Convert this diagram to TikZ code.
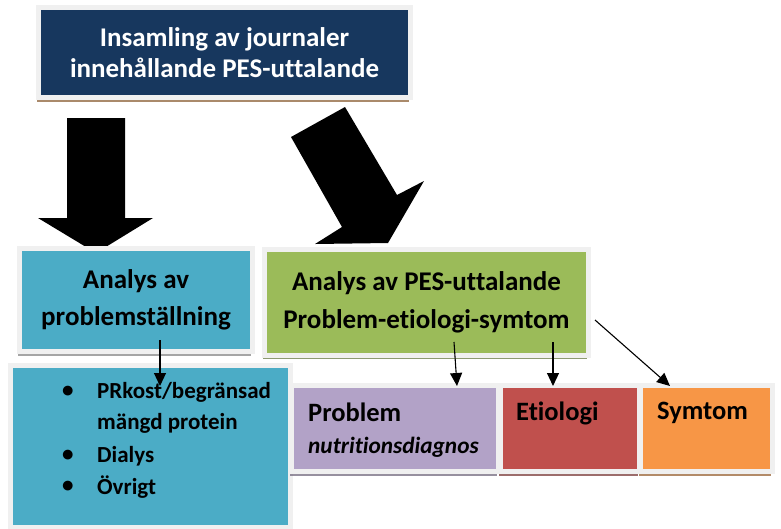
\documentclass[tikz,border=0pt]{standalone}
\usepackage{fontspec}
\setmainfont{Carlito}[Ligatures=NoCommon]
\usetikzlibrary{arrows.meta,shadows}
\definecolor{navy}{HTML}{17375E}
\definecolor{aqua}{HTML}{4BACC6}
\definecolor{olive}{HTML}{9BBB59}
\definecolor{lilac}{HTML}{B2A2C7}
\definecolor{brick}{HTML}{C0504D}
\definecolor{tangerine}{HTML}{F79646}
\definecolor{framegray}{HTML}{F0F0F0}
\tikzset{
  box/.style={draw=framegray, line width=5pt, inner sep=0pt, font=\bfseries, align=center},
  shad/.style={drop shadow={shadow xshift=-2pt, shadow yshift=-4pt, fill=#1, opacity=0.7}},
  bigarrow/.style={fill=black},
  thin/.style={line width=1.1pt, -{Triangle[width=12pt,length=13pt]}},
  lbl/.style={anchor=west, inner sep=0pt, font=\bfseries\fontsize{26.5}{30}\selectfont},
}
\begin{document}
\begin{tikzpicture}[x=1pt,y=-1pt]
\useasboundingbox[fill=white] (0,0) rectangle (781,528);
% top box
\node[box, shad=brown!70!black, fill=navy, text=white, minimum width=372pt, minimum height=90pt,
  font=\bfseries\fontsize{27}{31}\selectfont] (top) at (224.5,52.5)
  {Insamling av journaler\\innehållande PES-uttalande};
% big arrows
\fill[bigarrow] (67,118) -- (125,118) -- (125,218) -- (153,218) -- (96,253) -- (38,218) -- (67,218) -- cycle;
\fill[bigarrow] (291,137) -- (345,107) -- (397,195) -- (424,181) -- (388,243) -- (315,244) -- (342,227) -- cycle;
% lower blue box
\node[box, shad=gray, fill=aqua, minimum width=280pt, minimum height=162pt] (list) at (150.5,446.5) {};
% left analysis box
\node[box, shad=gray, fill=aqua, minimum width=233pt, minimum height=103pt,
  font=\bfseries\fontsize{27}{37}\selectfont] (prob) at (136,300)
  {Analys av\\problemställning};
% green box
\node[box, shad=olive!60!black, fill=olive, minimum width=324pt, minimum height=106pt,
  font=\bfseries\fontsize{27}{38}\selectfont] (pes) at (426.5,302)
  {Analys av PES-uttalande\\Problem-etiologi-symtom};
% P E S boxes
\node[box, shad=lilac!60!black, fill=lilac, minimum width=207pt, minimum height=86pt] (P) at (395,428.5) {};
\node[box, shad=brick!60!black, fill=brick, minimum width=139pt, minimum height=86pt] (E) at (570,428.5) {};
\node[box, shad=tangerine!60!black, fill=tangerine, minimum width=132pt, minimum height=86pt] (S) at (706.5,428.5) {};
\node[lbl] (Pt) at (308,412) {Problem};
\node[lbl, font=\bfseries\itshape\fontsize{23.3}{27}\selectfont] (Pi) at (308,447) {nutritionsdiagnos};
\node[lbl] (Et) at (516,413) {Etiologi};
\node[lbl] (St) at (657,413) {Symtom};
% bullet list
\tikzset{bul/.style={anchor=west, inner sep=0pt, font=\bfseries\fontsize{23}{27}\selectfont}}
\node[bul] (b1) at (62,392) {•};
\node[bul] (t1) at (97,392) {PRkost/begränsad};
\node[bul] (t1b) at (97,423) {mängd protein};
\node[bul] (b2) at (62,456) {•};
\node[bul] (t2) at (97,456) {Dialys};
\node[bul] (b3) at (62,487) {•};
\node[bul] (t3) at (97,487) {Övrigt};
% thin arrows
\coordinate (a1s) at (160,340);
\coordinate (a1e) at (160,386);
\draw[thin] (a1s) -- (a1e);
\coordinate (a2s) at (454,342);
\coordinate (a2e) at (457,386);
\draw[thin] (a2s) -- (a2e);
\coordinate (a3s) at (553,342);
\coordinate (a3e) at (553,386);
\draw[thin] (a3s) -- (a3e);
\coordinate (a4s) at (595,320);
\coordinate (a4e) at (670,386);
\draw[thin] (a4s) -- (a4e);
\end{tikzpicture}
\end{document}
